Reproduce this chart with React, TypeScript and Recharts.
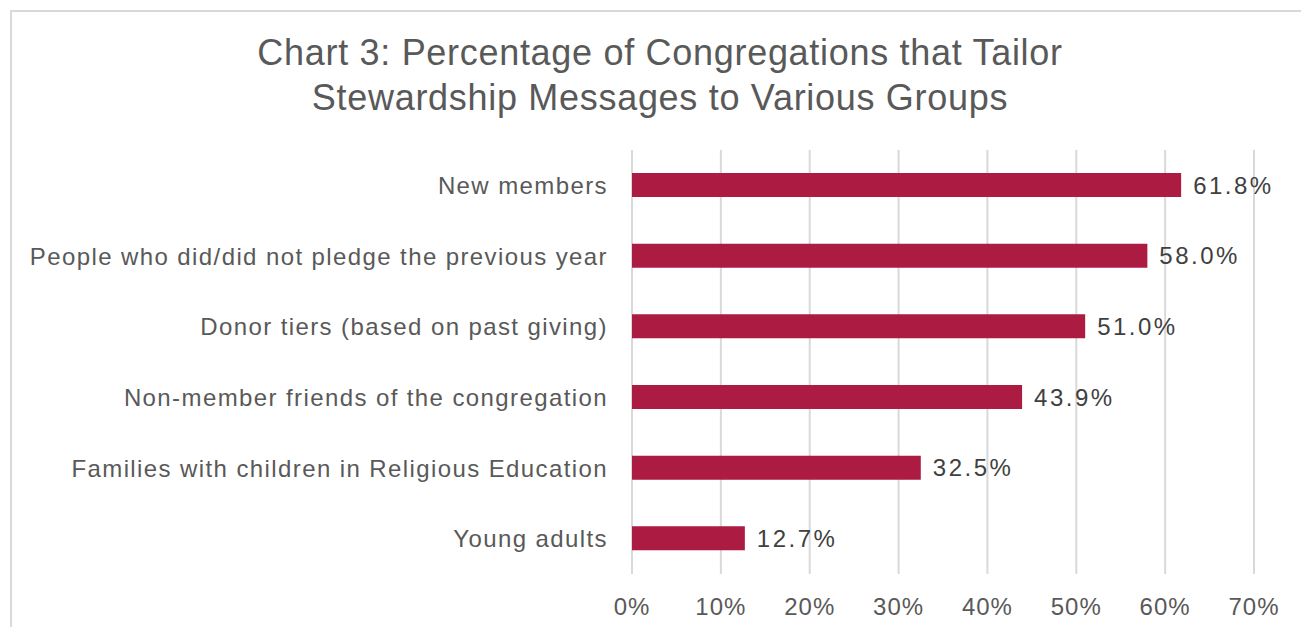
import { BarChart, Bar, XAxis, YAxis, CartesianGrid, LabelList } from "recharts";

const groups = [
  "New members",
  "People who did/did not pledge the previous year",
  "Donor tiers (based on past giving)",
  "Non-member friends of the congregation",
  "Families with children in Religious Education",
  "Young adults",
];
const shares = [61.8, 58.0, 51.0, 43.9, 32.5, 12.7];
const pctTicks = [0, 10, 20, 30, 40, 50, 60, 70];

const rows = groups.map((g, i) => ({ group: g, share: shares[i] }));

const FONT = "'Liberation Sans', Arial, sans-serif";

export default function App() {
  return (
    <div style={{ position: "relative", width: 1301, height: 619, fontFamily: FONT }}>
      <div
        style={{
          position: "absolute",
          left: 2,
          top: 2,
          width: 1297,
          height: 640,
          border: "2px solid #d9d9d9",
          boxSizing: "border-box",
        }}
      />
      <div
        style={{
          position: "absolute",
          left: 0,
          top: 22,
          width: 1304,
          textAlign: "center",
          fontSize: 36,
          lineHeight: "45px",
          letterSpacing: 0.7,
          color: "#595959",
        }}
      >
        Chart 3: Percentage of Congregations that Tailor
        <br />
        Stewardship Messages to Various Groups
      </div>
      <div style={{ position: "absolute", left: 0, top: 0 }}>
        <BarChart
          width={1301}
          height={619}
          data={rows}
          layout="vertical"
          margin={{ top: 142, right: 55, bottom: 13, left: 0 }}
          barSize={24}
        >
          <CartesianGrid horizontal={false} stroke="#d9d9d9" strokeWidth={2} />
          <XAxis
            type="number"
            domain={[0, 70]}
            ticks={pctTicks}
            tickFormatter={(v) => `${v}%`}
            axisLine={false}
            tickLine={false}
            tickSize={0}
            tickMargin={24}
            height={40}
            interval={0}
            tick={{ fill: "#595959", fontSize: 24, fontFamily: FONT, letterSpacing: 1 }}
          />
          <YAxis
            type="category"
            dataKey="group"
            width={624}
            axisLine={false}
            tickLine={false}
            tickSize={0}
            tickMargin={24}
            interval={0}
            tick={{ fill: "#595959", fontSize: 24, fontFamily: FONT, letterSpacing: 1.4 }}
          />
          <Bar dataKey="share" fill="#ab1b42" isAnimationActive={false}>
            <LabelList
              dataKey="share"
              position="right"
              offset={12}
              formatter={(v: number) => `${v.toFixed(1)}%`}
              style={{ fill: "#404040", fontSize: 24, fontFamily: FONT, letterSpacing: 2.5 }}
            />
          </Bar>
        </BarChart>
      </div>
    </div>
  );
}
